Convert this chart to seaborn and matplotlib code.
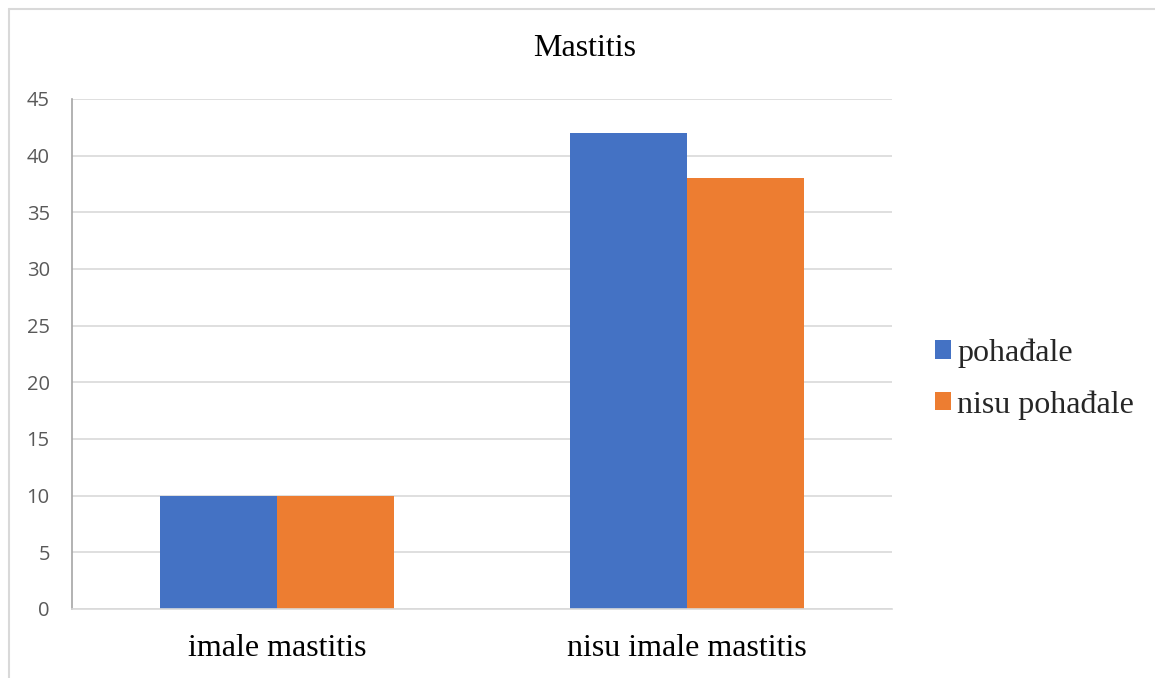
# Grouped bar chart: mastitis vs. attendance, Excel-style look
import pandas as pd
import matplotlib
matplotlib.use('Agg')
import matplotlib.pyplot as plt
from matplotlib.lines import Line2D
from matplotlib.patches import Patch
import seaborn as sns

# Data
categories = ['imale mastitis', 'nisu imale mastitis']
groups = ['pohađale', 'nisu pohađale']
pohadale = [10, 42]
nisu_pohadale = [10, 38]
y_ticks = [0, 5, 10, 15, 20, 25, 30, 35, 40, 45]

colors = ['#4472C4', '#ED7D31']

df = pd.DataFrame({
    'kategorija': categories * 2,
    'grupa': [groups[0]] * len(categories) + [groups[1]] * len(categories),
    'broj': pohadale + nisu_pohadale,
})

sns.set_style('white')
plt.rcParams['font.family'] = ['Liberation Serif', 'DejaVu Serif']

fig = plt.figure(figsize=(11.55, 6.78), dpi=100)
ax = fig.add_axes([72 / 1155, 69 / 678, 820 / 1155, 510 / 678])

sns.barplot(data=df, x='kategorija', y='broj', hue='grupa', order=categories,
            hue_order=groups, palette=colors, width=0.57, gap=0,
            saturation=1, linewidth=0, ax=ax, legend=False)

ax.set_xlim(-0.5, 1.5)
ax.set_ylim(0, 45)
ax.set_yticks(y_ticks)
ax.yaxis.grid(True, color='#D9D9D9', linewidth=1.2)
ax.set_axisbelow(True)
ax.set_xlabel('')
ax.set_ylabel('')

for side in ['top', 'right']:
    ax.spines[side].set_visible(False)
ax.spines['left'].set_color('#A6A6A6')
ax.spines['left'].set_linewidth(1.2)
ax.spines['bottom'].set_color('#D9D9D9')
ax.spines['bottom'].set_linewidth(1.2)

ax.tick_params(axis='both', length=0)
ax.tick_params(axis='x', labelsize=23, pad=18)
for lbl in ax.get_xticklabels():
    lbl.set_color('#000000')
for lbl in ax.get_yticklabels():
    lbl.set_fontfamily(['Open Sans', 'DejaVu Sans'])
    lbl.set_fontsize(14.5)
    lbl.set_color('#595959')
ax.tick_params(axis='y', pad=16)

fig.text(585 / 1155, 1 - 49 / 678, 'Mastitis', ha='center', va='center',
         fontsize=23, color='#000000')

handles = [Patch(facecolor=c, edgecolor='none') for c in colors]
fig.legend(handles, groups, loc='center left', bbox_to_anchor=(906 / 1155, 1 - 379 / 678),
           frameon=False, fontsize=23, handlelength=0.5, handleheight=0.5,
           handletextpad=0.2, labelspacing=0.7)

# chart frame (only top and left edges visible in the reference)
fig.add_artist(Line2D([9 / 1155, 9 / 1155], [0, 1 - 9 / 678], transform=fig.transFigure,
                      color='#D9D9D9', linewidth=1.5))
fig.add_artist(Line2D([9 / 1155, 1], [1 - 9 / 678, 1 - 9 / 678], transform=fig.transFigure,
                      color='#D9D9D9', linewidth=1.5))

fig.savefig('out.png', dpi=100)
